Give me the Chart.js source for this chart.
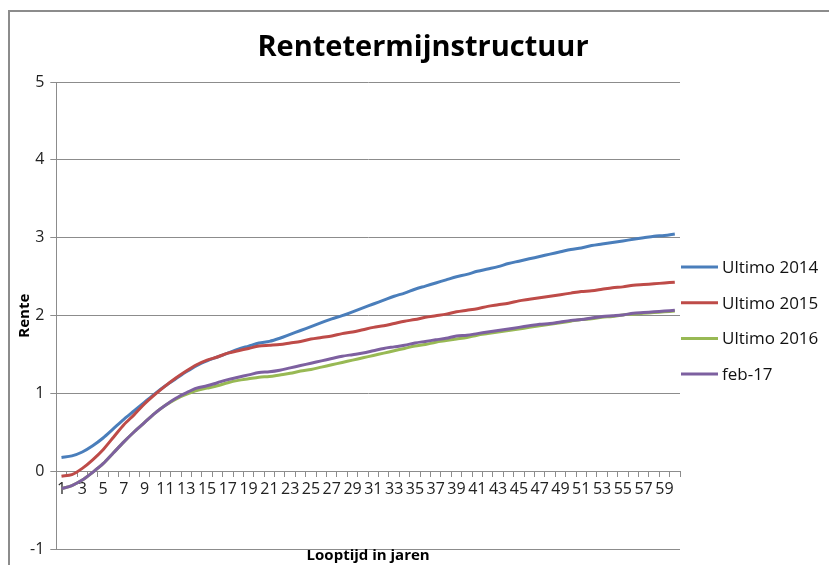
<!DOCTYPE html>
<html>
<head>
<meta charset="utf-8">
<script src="https://cdn.jsdelivr.net/npm/chart.js@4.4.1/dist/chart.umd.min.js"></script>
<style>
html,body{margin:0;padding:0;background:#fff;}
#wrap{width:829px;height:565px;position:relative;}
</style>
</head>
<body>
<div id="wrap"><canvas id="c" width="829" height="565"></canvas></div>
<script>
const categories = ['1','2','3','4','5','6','7','8','9','10','11','12','13','14','15','16','17','18','19','20',
'21','22','23','24','25','26','27','28','29','30','31','32','33','34','35','36','37','38','39','40',
'41','42','43','44','45','46','47','48','49','50','51','52','53','54','55','56','57','58','59','60'];

const ultimo2014 = [0.18,0.20,0.25,0.33,0.43,0.55,0.67,0.78,0.89,1.00,1.10,1.19,1.28,1.36,1.42,1.47,1.52,1.57,1.61,1.65,
1.67,1.71,1.76,1.81,1.86,1.91,1.96,2.00,2.05,2.10,2.15,2.20,2.25,2.29,2.34,2.38,2.42,2.46,2.50,2.53,
2.57,2.60,2.63,2.67,2.70,2.73,2.76,2.79,2.82,2.85,2.87,2.90,2.92,2.94,2.96,2.98,3.00,3.02,3.03,3.05];

const ultimo2015 = [-0.06,-0.04,0.04,0.15,0.28,0.44,0.60,0.73,0.87,0.99,1.10,1.20,1.29,1.37,1.43,1.47,1.52,1.55,1.58,1.61,
1.62,1.63,1.65,1.67,1.70,1.72,1.74,1.77,1.79,1.82,1.85,1.87,1.90,1.93,1.95,1.98,2.00,2.02,2.05,2.07,
2.09,2.12,2.14,2.16,2.19,2.21,2.23,2.25,2.27,2.29,2.31,2.32,2.34,2.36,2.37,2.39,2.40,2.41,2.42,2.43];

const ultimo2016 = [-0.22,-0.18,-0.11,-0.01,0.10,0.24,0.38,0.51,0.63,0.75,0.85,0.93,0.99,1.04,1.07,1.10,1.14,1.17,1.19,1.21,
1.22,1.24,1.26,1.29,1.31,1.34,1.37,1.40,1.43,1.46,1.49,1.52,1.55,1.58,1.61,1.63,1.66,1.68,1.70,1.72,
1.75,1.77,1.79,1.81,1.83,1.85,1.87,1.89,1.91,1.93,1.95,1.96,1.98,1.99,2.01,2.02,2.03,2.04,2.05,2.06];

const feb17 = [-0.22,-0.18,-0.11,-0.01,0.10,0.24,0.38,0.51,0.63,0.75,0.85,0.94,1.01,1.07,1.10,1.14,1.18,1.21,1.24,1.27,
1.28,1.30,1.33,1.36,1.39,1.42,1.45,1.48,1.50,1.52,1.55,1.58,1.60,1.62,1.65,1.67,1.69,1.71,1.74,1.75,
1.77,1.79,1.81,1.83,1.85,1.87,1.89,1.90,1.92,1.94,1.95,1.97,1.99,2.00,2.01,2.03,2.04,2.05,2.06,2.07];

const seriesNames = ['Ultimo 2014','Ultimo 2015','Ultimo 2016','feb-17'];
const yTicks = [-1,0,1,2,3,4,5];
const titleText = 'Rentetermijnstructuur';
const xTitle = 'Looptijd in jaren';
const yTitle = 'Rente';

const FONT = "'Open Sans', 'Liberation Sans', sans-serif";
const colors = ['#4A7EBB','#BE4B48','#98B954','#7D60A0'];
const values = [ultimo2014, ultimo2015, ultimo2016, feb17];

const frameAndTexts = {
  id: 'frameAndTexts',
  beforeDraw(chart) {
    const ctx = chart.ctx;
    ctx.save();
    ctx.fillStyle = '#fff';
    ctx.fillRect(0, 0, chart.width, chart.height);
    ctx.strokeStyle = '#8c8c8c';
    ctx.lineWidth = 2;
    ctx.strokeRect(9, 11, 900, 700);
    ctx.restore();
  },
  afterDraw(chart) {
    const ctx = chart.ctx;
    const a = chart.chartArea;
    ctx.save();
    // chart title
    ctx.fillStyle = '#000';
    ctx.textAlign = 'center';
    ctx.textBaseline = 'middle';
    ctx.font = "bold 29px " + FONT;
    ctx.fillText(titleText, 423, 48);
    // axis titles
    ctx.font = "bold 15px " + FONT;
    ctx.fillText(xTitle, (a.left + a.right) / 2, a.bottom + 6);
    ctx.save();
    ctx.translate(25, (a.top + a.bottom) / 2);
    ctx.rotate(-Math.PI / 2);
    ctx.fillText(yTitle, 0, 0);
    ctx.restore();
    // legend
    ctx.textAlign = 'left';
    ctx.font = "17px " + FONT;
    chart.data.datasets.forEach((ds, i) => {
      const y = 267 + i * 35.7;
      ctx.strokeStyle = ds.borderColor;
      ctx.lineWidth = 3;
      ctx.beginPath();
      ctx.moveTo(a.right + 1, y);
      ctx.lineTo(a.right + 38, y);
      ctx.stroke();
      ctx.fillStyle = '#111';
      ctx.fillText(ds.label, a.right + 42, y + 1);
    });
    ctx.restore();
  }
};

new Chart(document.getElementById('c'), {
  type: 'line',
  data: {
    labels: categories,
    datasets: values.map((v, i) => ({
      label: seriesNames[i],
      data: v,
      borderColor: colors[i],
      backgroundColor: colors[i],
      borderWidth: 3,
      pointRadius: 0,
      tension: 0.3,
      fill: false,
      order: 4 - i
    }))
  },
  options: {
    responsive: false,
    animation: false,
    layout: { padding: { top: 82, left: 24, right: 149, bottom: 10 } },
    plugins: {
      title: { display: false },
      legend: { display: false },
      tooltip: { enabled: false }
    },
    scales: {
      x: {
        position: { y: 0 },
        offset: true,
        grid: {
          display: true,
          drawOnChartArea: false,
          drawTicks: true,
          tickLength: 5,
          color: '#8c8c8c',
          offset: true
        },
        border: { display: true, color: '#8c8c8c', width: 1 },
        ticks: {
          autoSkip: false,
          maxRotation: 0,
          minRotation: 0,
          padding: 3,
          color: '#222',
          font: { family: FONT, size: 16 },
          callback: function(val, idx) { return idx % 2 === 0 ? this.getLabelForValue(val) : ''; }
        }
      },
      y: {
        min: yTicks[0],
        max: yTicks[yTicks.length - 1],
        afterBuildTicks: (s) => { s.ticks = yTicks.map(v => ({ value: v })); },
        grid: { color: '#8c8c8c', tickLength: 6, lineWidth: 1 },
        border: { display: true, color: '#8c8c8c' },
        ticks: {
          color: '#222',
          padding: 6,
          font: { family: FONT, size: 16 }
        }
      }
    }
  },
  plugins: [frameAndTexts]
});
</script>
</body>
</html>
